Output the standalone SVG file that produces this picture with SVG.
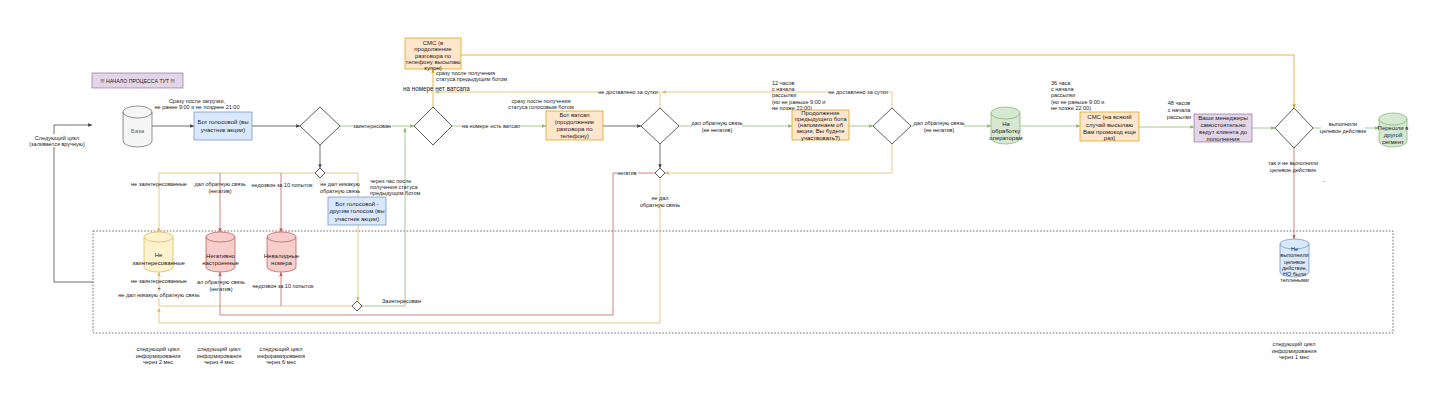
<svg xmlns="http://www.w3.org/2000/svg" width="1437" height="417" viewBox="0 0 1437 417">
<style>
text{font-family:"Liberation Sans",Arial,sans-serif;fill:#222;dominant-baseline:central}
.l{font-size:5.5px}
.b{font-size:6px}
.m{text-anchor:middle}
.c{fill:none;stroke-width:0.7}
.k{stroke:#333}.g{stroke:#82b366}.y{stroke:#d6b656}.r{stroke:#b85450}.o{stroke:#d79b00}
.blue{fill:#dae8fc;stroke:#6c8ebf;stroke-width:0.7}
.org{fill:#ffe6cc;stroke:#d79b00;stroke-width:0.7}
.pur{fill:#e1d5e7;stroke:#9673a6;stroke-width:0.7}
.grn{fill:#d5e8d4;stroke:#82b366;stroke-width:0.7}
.yel{fill:#fff2cc;stroke:#d6b656;stroke-width:0.7}
.red{fill:#f8cecc;stroke:#b85450;stroke-width:0.7}
.gry{fill:#f5f5f5;stroke:#666;stroke-width:0.7}
.dia{fill:#fff;stroke:#333;stroke-width:0.8}
.bg{fill:#fff}
</style>
<defs>
<marker id="aK" viewBox="0 0 6 6" refX="6" refY="3" markerWidth="4.5" markerHeight="4.5" orient="auto" markerUnits="userSpaceOnUse"><path d="M0,0.5 L6,3 L0,5.5 L1.5,3 Z" fill="#333"/></marker>
<marker id="aG" viewBox="0 0 6 6" refX="6" refY="3" markerWidth="4.5" markerHeight="4.5" orient="auto" markerUnits="userSpaceOnUse"><path d="M0,0.5 L6,3 L0,5.5 L1.5,3 Z" fill="#82b366"/></marker>
<marker id="aY" viewBox="0 0 6 6" refX="6" refY="3" markerWidth="4.5" markerHeight="4.5" orient="auto" markerUnits="userSpaceOnUse"><path d="M0,0.5 L6,3 L0,5.5 L1.5,3 Z" fill="#d6b656"/></marker>
<marker id="aR" viewBox="0 0 6 6" refX="6" refY="3" markerWidth="4.5" markerHeight="4.5" orient="auto" markerUnits="userSpaceOnUse"><path d="M0,0.5 L6,3 L0,5.5 L1.5,3 Z" fill="#b85450"/></marker>
<marker id="aO" viewBox="0 0 6 6" refX="6" refY="3" markerWidth="4.5" markerHeight="4.5" orient="auto" markerUnits="userSpaceOnUse"><path d="M0,0.5 L6,3 L0,5.5 L1.5,3 Z" fill="#d79b00"/></marker>
</defs>
<rect width="1437" height="417" fill="#fff"/>

<g id="region">
<rect x="93" y="231" width="1300" height="102" fill="none" stroke="#333" stroke-width="0.7" stroke-dasharray="1.6,1.6"/>
</g>

<g id="connectors">
<!-- left loop -->
<path class="c k" d="M93,282 H54 V125 H92" marker-end="url(#aK)"/>
<path class="c k" d="M152,126 H194" marker-end="url(#aK)"/>
<path class="c k" d="M252,126 H300" marker-end="url(#aK)"/>
<path class="c g" d="M340,126 H414" marker-end="url(#aG)"/>
<path class="c k" d="M320,145 V168" marker-end="url(#aK)"/>
<path class="c y" d="M315,173 H159 V232" marker-end="url(#aY)"/>
<path class="c r" d="M220,173 V232" marker-end="url(#aR)"/>
<path class="c r" d="M281,173 V232" marker-end="url(#aR)"/>
<path class="c y" d="M325,173 H358 V301" marker-end="url(#aY)"/>
<path class="c y" d="M352,306 H159 V272" marker-end="url(#aY)"/>
<path class="c r" d="M281,306 V272" marker-end="url(#aR)"/>
<path class="c g" d="M362,306 H405 V128" marker-end="url(#aG)"/>
<path class="c r" d="M655,173 H613 V315 H220 V272" marker-end="url(#aR)"/>
<path class="c y" d="M660,178 V323 H159 V308" marker-end="url(#aY)"/>
<path class="c g" d="M452,126 H546" marker-end="url(#aG)"/>
<path class="c o" d="M433,107 V69" marker-end="url(#aO)"/>
<path class="c y" d="M660,108 V92 H435" marker-end="url(#aY)"/>
<path class="c y" d="M892,108 V92 H662" marker-end="url(#aY)"/>
<path class="c k" d="M603,126 H641" marker-end="url(#aK)"/>
<path class="c g" d="M679,126 H792" marker-end="url(#aG)"/>
<path class="c k" d="M660,144 V168" marker-end="url(#aK)"/>
<path class="c g" d="M849,126 H873" marker-end="url(#aG)"/>
<path class="c y" d="M892,144 V173 H665" marker-end="url(#aY)"/>
<path class="c g" d="M911,126 H991" marker-end="url(#aG)"/>
<path class="c g" d="M1020,126 H1080" marker-end="url(#aG)"/>
<path class="c g" d="M1139,127 H1194" marker-end="url(#aG)"/>
<path class="c g" d="M1252,128 H1275" marker-end="url(#aG)"/>
<path class="c o" d="M461,55 H1294 V108" marker-end="url(#aO)"/>
<path class="c g" d="M1313,128 H1379" marker-end="url(#aG)"/>
<path class="c r" d="M1294,148 V239" marker-end="url(#aR)"/>

<!-- connector labels -->
<rect class="bg" x="28" y="134" width="58" height="13"/>
<text class="l m" x="57" y="137.5">Следующий цикл</text>
<text class="l m" x="57" y="144">(заливается вручную)</text>
<text class="l m" x="197" y="101">Сразу после загрузки,</text>
<text class="l m" x="197" y="107">не ранее 9:00 и не позднее 21:00</text>
<rect class="bg" x="353" y="123" width="39" height="6"/>
<text class="l m" x="372" y="126">заинтересован</text>
<text class="l m" x="159" y="184">не заинтересованные</text>
<text class="l m" x="220" y="184">дал обратную связь</text>
<text class="l m" x="220" y="191">(негатив)</text>
<text class="l m" x="282" y="185">недозвон за 10 попыток</text>
<text class="l m" x="340" y="184">не дал никакую</text>
<text class="l m" x="340" y="191">обратную связь</text>
<text class="l" x="370" y="181">через час после</text>
<text class="l" x="370" y="187">получения статуса</text>
<text class="l" x="370" y="193">предыдущим ботом</text>
<text class="l m" x="159" y="281">не заинтересованные</text>
<text class="l m" x="159" y="288">+</text>
<rect class="bg" x="117" y="292" width="84" height="6"/>
<text class="l m" x="159" y="295">не дал никакую обратную связь</text>
<text class="l m" x="221" y="282">ал обратную связь</text>
<text class="l m" x="221" y="289">(негатив)</text>
<text class="l m" x="283" y="286">недозвон за 10 попыток</text>
<text class="l" x="382" y="301">Заинтересован</text>
<rect class="bg" x="617" y="170" width="21" height="6"/>
<text class="l m" x="627" y="173">негатив</text>
<text class="l m" x="660" y="198">не дал</text>
<text class="l m" x="660" y="204.5">обратную связь</text>
<text class="l" x="436" y="73">сразу после получения</text>
<text class="l" x="436" y="79">статуса предыдущим ботом</text>
<text x="403" y="88.5" style="font-size:6.3px">на номере нет ватсапа</text>
<text class="l m" x="541" y="101">сразу после получения</text>
<text class="l m" x="541" y="107">статуса голосовым ботом</text>
<rect class="bg" x="462" y="123" width="58" height="6"/>
<text class="l m" x="491" y="126">на номере есть ватсап</text>
<rect class="bg" x="598" y="89" width="60" height="6"/>
<text class="l m" x="628" y="92">не доставлено за сутки</text>
<rect class="bg" x="828" y="89" width="60" height="6"/>
<text class="l m" x="858" y="92">не доставлено за сутки</text>
<text class="l" x="772" y="83">12 часов</text>
<text class="l" x="772" y="89">с начала</text>
<text class="l" x="772" y="95">рассылки</text>
<text class="l" x="772" y="101.5">(но не раньше 9:00 и</text>
<text class="l" x="772" y="108">не позже 22:00)</text>
<rect class="bg" x="692" y="120" width="50" height="13"/>
<text class="l m" x="717" y="123">дал обратную связь</text>
<text class="l m" x="717" y="130">(не негатив)</text>
<rect class="bg" x="914" y="120" width="50" height="13"/>
<text class="l m" x="939" y="123">дал обратную связь</text>
<text class="l m" x="939" y="130">(не негатив)</text>
<text class="l" x="1051" y="83">36 часа</text>
<text class="l" x="1051" y="89">с начала</text>
<text class="l" x="1051" y="95">рассылки</text>
<text class="l" x="1051" y="101.5">(но не раньше 9:00 и</text>
<text class="l" x="1051" y="108">не позже 22:00)</text>
<text class="l m" x="1179" y="103">48 часов</text>
<text class="l m" x="1179" y="110">с начала</text>
<text class="l m" x="1179" y="116.5">рассылки</text>
<rect class="bg" x="1321" y="121" width="44" height="13"/>
<text class="l m" x="1343" y="124">выполнили</text>
<text class="l m" x="1343" y="131">целевое действие</text>
<text class="l m" x="1293" y="163">так и не выполнили</text>
<text class="l m" x="1293" y="170">целевое действие</text>
<text class="l m" x="1324" y="181">-</text>
</g>

<g id="start">
<rect class="pur" x="92" y="73" width="91" height="15"/>
<text class="m" x="137.5" y="80.5" style="font-size:5.2px">!!! НАЧАЛО ПРОЦЕССА ТУТ !!!</text>
</g>

<g id="baza">
<path class="gry" d="M123,112 a14.5,6 0 0 1 29,0 v29 a14.5,6 0 0 1 -29,0 Z"/>
<path d="M123,112 a14.5,6 0 0 0 29,0" fill="none" stroke="#666" stroke-width="0.7"/>
<text class="b m" x="137.5" y="131" style="fill:#666">База</text>
</g>

<g id="bot-voice">
<rect class="blue" x="194" y="112" width="58" height="28"/>
<text class="b m" x="223" y="122">Бот голосовой (вы</text>
<text class="b m" x="223" y="129.5">участник акции)</text>
</g>

<g id="d1"><path class="dia" d="M320,107 L340,126 L320,145 L300,126 Z"/></g>
<g id="s1"><path class="dia" d="M320,168 L325,173 L320,178 L315,173 Z"/></g>
<g id="d2"><path class="dia" d="M433,107 L452,126 L433,145 L414,126 Z"/></g>
<g id="d3"><path class="dia" d="M660,108 L679,126 L660,144 L641,126 Z"/></g>
<g id="s3"><path class="dia" d="M660,168 L665,173 L660,178 L655,173 Z"/></g>
<g id="d4"><path class="dia" d="M892,108 L911,126 L892,144 L873,126 Z"/></g>
<g id="d5"><path class="dia" d="M1294,108 L1313,128 L1294,148 L1275,128 Z"/></g>
<g id="s2"><path class="dia" d="M357,301 L362,306 L357,311 L352,306 Z"/></g>

<g id="bot-voice2">
<rect class="blue" x="328" y="197" width="58" height="28"/>
<text class="b m" x="357" y="203.5">Бот голосовой -</text>
<text class="b m" x="357" y="211">другим голосом (вы</text>
<text class="b m" x="357" y="218.5">участник акции)</text>
</g>

<g id="sms1">
<rect class="org" x="405" y="38" width="56" height="31"/>
<text class="b m" x="433" y="42.5">СМС (в</text>
<text class="b m" x="433" y="49">продолжение</text>
<text class="b m" x="433" y="55.5">разговора по</text>
<text class="b m" x="433" y="62">телефону высылаю</text>
<text class="b m" x="433" y="68">купон)</text>
</g>

<g id="bot-wa">
<rect class="org" x="546" y="111" width="57" height="29"/>
<text class="b m" x="574.5" y="114.5">Бот ватсап</text>
<text class="b m" x="574.5" y="121.5">(продолжение</text>
<text class="b m" x="574.5" y="128.5">разговора по</text>
<text class="b m" x="574.5" y="135.5">телефону)</text>
</g>

<g id="continue">
<rect class="org" x="792" y="110" width="57" height="30"/>
<text class="b m" x="820.5" y="112.5">Продолжение</text>
<text class="b m" x="820.5" y="118.5">предыдущего бота</text>
<text class="b m" x="820.5" y="124.5">(напоминаем об</text>
<text class="b m" x="820.5" y="131">акции, Вы будете</text>
<text class="b m" x="820.5" y="137.5">участвовать?)</text>
</g>

<g id="operators">
<path class="grn" d="M991,113 a14.5,6 0 0 1 29,0 v25 a14.5,6 0 0 1 -29,0 Z"/>
<path d="M991,113 a14.5,6 0 0 0 29,0" fill="none" stroke="#82b366" stroke-width="0.7"/>
<text class="b m" x="1006" y="124">На</text>
<text class="b m" x="1006" y="131">обработку</text>
<text class="b m" x="1006" y="138">операторам</text>
</g>

<g id="sms2">
<rect class="org" x="1080" y="112" width="59" height="29"/>
<text class="b m" x="1109.5" y="117">СМС (на всякий</text>
<text class="b m" x="1109.5" y="124.5">случай высылаю</text>
<text class="b m" x="1109.5" y="131.5">Вам промокод еще</text>
<text class="b m" x="1109.5" y="138">раз)</text>
</g>

<g id="managers">
<rect class="pur" x="1194" y="114" width="58" height="28"/>
<text class="b m" x="1223" y="117.5">Ваши менеджеры</text>
<text class="b m" x="1223" y="124.5">самостоятельно</text>
<text class="b m" x="1223" y="131.5">ведут клиента до</text>
<text class="b m" x="1223" y="138.5">пополнения</text>
</g>

<g id="segment">
<path class="grn" d="M1379,119 a14,6 0 0 1 28,0 v22 a14,6 0 0 1 -28,0 Z"/>
<path d="M1379,119 a14,6 0 0 0 28,0" fill="none" stroke="#82b366" stroke-width="0.7"/>
<text class="b m" x="1393" y="128">Перешли в</text>
<text class="b m" x="1393" y="135">другой</text>
<text class="b m" x="1393" y="141.5">сегмент</text>
</g>

<g id="not-interested">
<path class="yel" d="M144,237 a14.5,5 0 0 1 29,0 v30 a14.5,5 0 0 1 -29,0 Z"/>
<path d="M144,237 a14.5,5 0 0 0 29,0" fill="none" stroke="#d6b656" stroke-width="0.7"/>
<text class="b m" x="158.5" y="255">Не</text>
<text class="b m" x="158.5" y="262.5">заинтересованные</text>
</g>

<g id="negative">
<path class="red" d="M206,237 a14.5,5 0 0 1 29,0 v30 a14.5,5 0 0 1 -29,0 Z"/>
<path d="M206,237 a14.5,5 0 0 0 29,0" fill="none" stroke="#b85450" stroke-width="0.7"/>
<text class="b m" x="220.5" y="256">Негативно</text>
<text class="b m" x="220.5" y="263">настроенные</text>
</g>

<g id="invalid">
<path class="red" d="M267,237 a14.5,5 0 0 1 29,0 v30 a14.5,5 0 0 1 -29,0 Z"/>
<path d="M267,237 a14.5,5 0 0 0 29,0" fill="none" stroke="#b85450" stroke-width="0.7"/>
<text class="b m" x="281.5" y="256">Невалидные</text>
<text class="b m" x="281.5" y="263">номера</text>
</g>

<g id="warm">
<path class="blue" d="M1280,244 a14.5,5 0 0 1 29,0 v28 a14.5,5 0 0 1 -29,0 Z"/>
<path d="M1280,244 a14.5,5 0 0 0 29,0" fill="none" stroke="#6c8ebf" stroke-width="0.7"/>
<text class="l m" x="1294.5" y="249">Не</text>
<text class="l m" x="1294.5" y="255">выполнили</text>
<text class="l m" x="1294.5" y="261.5">целевое</text>
<text class="l m" x="1294.5" y="268">действие,</text>
<text class="l m" x="1294.5" y="274">НО были</text>
<text class="l m" x="1294.5" y="280">теплеными</text>
</g>

<g id="next-cycles">
<text class="l m" x="158" y="349">следующий цикл</text>
<text class="l m" x="158" y="355.5">информирования</text>
<text class="l m" x="158" y="362">через 2 мес</text>
<text class="l m" x="219" y="349">следующий цикл</text>
<text class="l m" x="219" y="355.5">информирования</text>
<text class="l m" x="219" y="362">через 4 мес</text>
<text class="l m" x="281" y="349">следующий цикл</text>
<text class="l m" x="281" y="355.5">инфорамирования</text>
<text class="l m" x="281" y="362">через 6 мес</text>
<text class="l m" x="1294" y="344">следующий цикл</text>
<text class="l m" x="1294" y="350.5">информирования</text>
<text class="l m" x="1294" y="357">через 1 мес</text>
</g>
</svg>
